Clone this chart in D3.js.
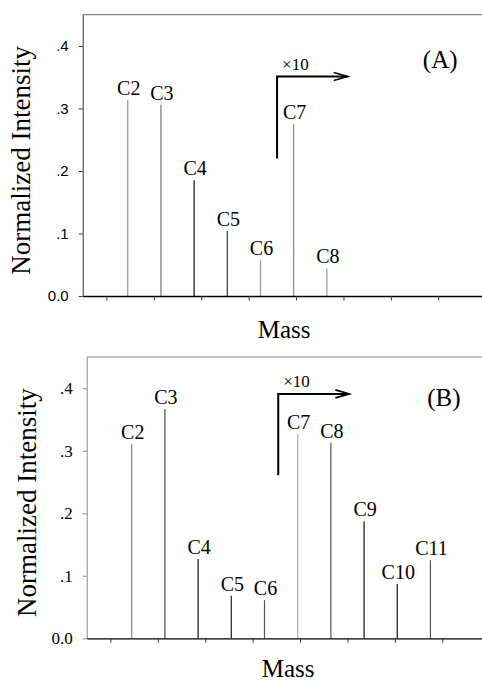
<!DOCTYPE html>
<html>
<head>
<meta charset="utf-8">
<script src="https://cdn.jsdelivr.net/npm/d3@7"></script>
<style>
  body { margin: 0; background: #fff; }
  svg { display: block; }
</style>
</head>
<body>
<div id="chart"></div>
<script>
// fragment masses (CnH2n+1), labels and normalized intensities
var massA = [29, 43, 57, 71, 85, 99, 113];
var labelsA = ["C2", "C3", "C4", "C5", "C6", "C7", "C8"];
var intensityA = [0.314, 0.306, 0.185, 0.104, 0.058, 0.275, 0.044];

var massB = [29, 43, 57, 71, 85, 99, 113, 127, 141, 155];
var labelsB = ["C2", "C3", "C4", "C5", "C6", "C7", "C8", "C9", "C10", "C11"];
var intensityB = [0.311, 0.367, 0.127, 0.068, 0.061, 0.327, 0.313, 0.187, 0.087, 0.125];

var yTicks = [0, 0.1, 0.2, 0.3, 0.4];
var xTicks = [20, 40, 60, 80, 100, 120, 140, 160, 180];

// "x10" arrow: corner mass, arrow end mass, lower and upper intensity
var arrowA = [92, 121.8, 0.220, 0.351];
var arrowB = [90.8, 120.8, 0.261, 0.391];

// stem shades (style only)
var shadeA = ["#9a9a9a", "#7a7a7a", "#111", "#333", "#9a9a9a", "#888", "#9a9a9a"];
var shadeB = ["#888", "#444", "#111", "#222", "#555", "#aaa", "#555", "#111", "#111", "#555"];

var width = 482, height = 686;

var svg = d3.select("#chart")
            .append("svg")
            .attr("width", width)
            .attr("height", height)
            .style("background", "#fff");

var panels = [
  {mass: massA, labels: labelsA, values: intensityA, shade: shadeA, arrow: arrowA, tag: "(A)",
   left: 82.7, top: 14.7, bottom: 296, tickFont: "'Liberation Sans', Arial, sans-serif", tickSize: 15,
   axisColor: "#333", frameColor: "#666", titleX: 30, massY: 338, tagPos: [160.8, 0.364]},
  {mass: massB, labels: labelsB, values: intensityB, shade: shadeB, arrow: arrowB, tag: "(B)",
   left: 86.7, top: 357, bottom: 638.3, tickFont: "'Liberation Serif', 'Times New Roman', serif", tickSize: 17,
   axisColor: "#888", frameColor: "#888", titleX: 36, massY: 677, tagPos: [160.7, 0.372]}
];

var serif = "'Liberation Serif', 'Times New Roman', serif";

panels.forEach(drawPanel);

function drawPanel(p) {
  var right = p.left + 403;

  var x = d3.scaleLinear()
            .domain([10, 180])
            .range([p.left, right]);

  var y = d3.scaleLinear()
            .domain([0, 0.45])
            .range([p.bottom, p.top]);

  var g = svg.append("g");

  // top frame line
  g.append("line")
   .attr("x1", p.left)
   .attr("x2", right + 10)
   .attr("y1", p.top)
   .attr("y2", p.top)
   .attr("stroke", p.frameColor)
   .attr("stroke-width", 1);

  // y axis
  var yAxis = g.append("g")
               .attr("transform", "translate(" + p.left + ",0)")
               .call(d3.axisLeft(y)
                       .tickValues(yTicks)
                       .tickSize(4)
                       .tickSizeOuter(0)
                       .tickPadding(10)
                       .tickFormat(d => d === 0 ? "0.0" : d3.format(".1f")(d).replace(/^0/, "")));
  yAxis.select(".domain").attr("stroke", p.axisColor);
  yAxis.selectAll(".tick line").attr("stroke", p.axisColor);
  yAxis.selectAll("text")
       .attr("fill", "#000")
       .style("font-family", p.tickFont)
       .style("font-size", p.tickSize + "px");

  // stems
  var stems = p.mass.map((m, i) => ({mass: m, value: p.values[i], label: p.labels[i], shade: p.shade[i]}));

  g.selectAll(".stem")
   .data(stems)
   .enter()
   .append("line")
   .attr("class", "stem")
   .attr("x1", d => x(d.mass))
   .attr("x2", d => x(d.mass))
   .attr("y1", y(0))
   .attr("y2", d => y(d.value))
   .attr("stroke", d => d.shade)
   .attr("stroke-width", 1.2);

  g.selectAll(".stemlabel")
   .data(stems)
   .enter()
   .append("text")
   .attr("class", "stemlabel")
   .attr("x", d => x(d.mass) + 1)
   .attr("y", d => y(d.value) - 5)
   .attr("text-anchor", "middle")
   .style("font-family", serif)
   .style("font-size", "20px")
   .text(d => d.label);

  // x axis (no labels)
  var xAxis = g.append("g")
               .attr("transform", "translate(0," + p.bottom + ")")
               .call(d3.axisBottom(x)
                       .tickValues(xTicks)
                       .tickSize(4.5)
                       .tickSizeOuter(0)
                       .tickFormat(""));
  xAxis.select(".domain").attr("stroke", "#000").attr("stroke-width", 1.3);
  xAxis.selectAll(".tick line").attr("stroke", "#333");

  // x10 arrow
  var a = p.arrow;
  g.append("path")
   .attr("d", "M" + x(a[0]) + "," + y(a[2]) + "V" + y(a[3]) + "H" + x(a[1]))
   .attr("fill", "none")
   .attr("stroke", "#000")
   .attr("stroke-width", 2);
  g.append("path")
   .attr("d", "M" + (x(a[1]) - 14) + "," + (y(a[3]) - 4) + "L" + x(a[1]) + "," + y(a[3]) + "L" + (x(a[1]) - 14) + "," + (y(a[3]) + 4))
   .attr("fill", "none")
   .attr("stroke", "#000")
   .attr("stroke-width", 1.6);
  g.append("text")
   .attr("x", x(a[0]) + 5)
   .attr("y", y(a[3]) - 7)
   .style("font-family", serif)
   .style("font-size", "17px")
   .text("\u00d710");

  // panel tag
  g.append("text")
   .attr("x", x(p.tagPos[0]))
   .attr("y", y(p.tagPos[1]))
   .attr("text-anchor", "middle")
   .style("font-family", serif)
   .style("font-size", "25px")
   .text(p.tag);

  // axis titles
  g.append("text")
   .attr("transform", "translate(" + p.titleX + "," + ((p.top + p.bottom) / 2 + 5) + ") rotate(-90)")
   .attr("text-anchor", "middle")
   .style("font-family", serif)
   .style("font-size", "27px")
   .text("Normalized Intensity");

  g.append("text")
   .attr("x", (p.left + right) / 2)
   .attr("y", p.massY)
   .attr("text-anchor", "middle")
   .style("font-family", serif)
   .style("font-size", "25px")
   .text("Mass");
}
</script>
</body>
</html>
